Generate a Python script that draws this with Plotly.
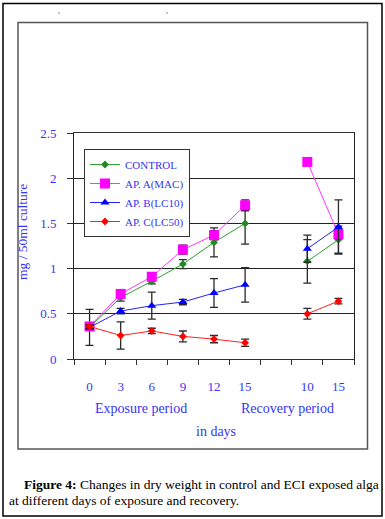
import plotly.graph_objects as go

categories = ["0", "3", "6", "9", "12", "15", "", "10", "15"]
control = [0.35, 0.68, 0.86, 1.05, 1.29, 1.50, None, 1.08, 1.32]
control_err = [0.20, 0.04, 0.03, 0.05, 0.16, 0.23, None, 0.24, 0.15]
mac = [0.36, 0.72, 0.91, 1.21, 1.37, 1.70, None, 2.18, 1.38]
mac_err = [0.03, 0.03, 0.03, 0.05, 0.05, 0.06, None, 0.03, 0.05]
lc10 = [0.35, 0.53, 0.59, 0.63, 0.73, 0.82, None, 1.22, 1.46]
lc10_err = [0.02, 0.03, 0.15, 0.03, 0.16, 0.19, None, 0.15, 0.30]
lc50 = [0.36, 0.26, 0.31, 0.25, 0.22, 0.18, None, 0.50, 0.64]
lc50_err = [0.02, 0.15, 0.03, 0.06, 0.04, 0.04, None, 0.06, 0.03]
y_ticks = [0, 0.5, 1, 1.5, 2, 2.5]
y_ticktext = ["0", "0.5", "1", "1.5", "2", "2.5"]

W, H = 385, 519
ML, MR, MT, MB = 74, 31, 133, 160
PW, PH = W - ML - MR, H - MT - MB
SERIF = "'Liberation Serif', 'Times New Roman', Times, serif"
BLUE = "#3535f5"


def px(x):
    return (x - ML) / PW


def py(y):
    return (H - MB - y) / PH


xpos = list(range(len(categories)))

series = [
    ("CONTROL", control, control_err, "#1f8a1f", "#2f9e2f", "diamond", 6),
    ("AP. A(MAC)", mac, mac_err, "#ff00ff", "#ff33ff", "square", 10),
    ("AP. B(LC10)", lc10, lc10_err, "#0000ff", "#2222ff", "triangle-up", 8),
    ("AP. C(LC50)", lc50, lc50_err, "#ff0000", "#ff2020", "diamond", 6),
]

fig = go.Figure()
for name, vals, errs, mcol, lcol, sym, size in series:
    fig.add_trace(go.Scatter(
        x=xpos, y=vals, name=name, mode="lines+markers",
        connectgaps=False,
        line=dict(color=lcol, width=1),
        marker=dict(color=mcol, symbol=sym, size=size),
        error_y=dict(type="data", array=errs, visible=True,
                     color="#2a2a2a", thickness=1.3, width=4),
    ))

fig.update_layout(
    width=W, height=H,
    margin=dict(l=ML, r=MR, t=MT, b=MB),
    paper_bgcolor="white", plot_bgcolor="white",
    font=dict(family=SERIF, color=BLUE, size=13),
    showlegend=True,
    legend=dict(
        x=px(84), y=py(149), xanchor="left", yanchor="top",
        bgcolor="white", bordercolor="#333333", borderwidth=1,
        font=dict(family=SERIF, size=11, color=BLUE),
        itemwidth=30, tracegroupgap=0,
    ),
    xaxis=dict(
        range=[-0.5, len(categories) - 0.5],
        tickmode="array", tickvals=xpos, ticktext=categories,
        ticks="", showgrid=False, zeroline=False,
        showline=True, linecolor="#333333", linewidth=1, mirror=True,
        tickfont=dict(family=SERIF, size=13, color=BLUE),
        ticklabelstandoff=15,
        minor=dict(tickvals=[i - 0.5 for i in range(len(categories) + 1)],
                   ticks="outside", ticklen=5, tickcolor="#333333", tickwidth=1),
    ),
    yaxis=dict(
        range=[0, 2.5], tickmode="array", tickvals=y_ticks, ticktext=y_ticktext,
        ticks="outside", ticklen=6, tickcolor="#333333",
        showgrid=True, gridcolor="#222222", gridwidth=1, zeroline=False,
        showline=True, linecolor="#222222", linewidth=1, mirror=True,
        tickfont=dict(family=SERIF, size=13, color=BLUE),
        ticklabelstandoff=8,
    ),
)

ann = [
    dict(text="mg / 50ml culture", x=px(22), y=py(232), textangle=-90,
         font=dict(family=SERIF, size=13.5, color=BLUE)),
    dict(text="Exposure period", x=px(141), y=py(408),
         font=dict(family=SERIF, size=14, color=BLUE)),
    dict(text="Recovery period", x=px(287), y=py(408),
         font=dict(family=SERIF, size=14, color=BLUE)),
    dict(text="in days", x=px(216), y=py(431),
         font=dict(family=SERIF, size=14, color=BLUE)),
    dict(text="<b>Figure 4:</b> Changes in dry weight in control and ECI exposed alga",
         x=px(22), y=py(484), xanchor="left",
         font=dict(family=SERIF, size=13.5, color="black")),
    dict(text="at different days of exposure and recovery.",
         x=px(7), y=py(501), xanchor="left",
         font=dict(family=SERIF, size=13.5, color="black")),
]
for a in ann:
    a.setdefault("xanchor", "center")
    fig.add_annotation(xref="paper", yref="paper", showarrow=False,
                       yanchor="middle", **a)

# inner chart frame and outer page frame
fig.add_shape(type="rect", xref="paper", yref="paper",
              x0=px(18), x1=px(367.5), y0=py(449), y1=py(22.5),
              line=dict(color="#555555", width=1.5), layer="below")
fig.add_shape(type="rect", xref="paper", yref="paper",
              x0=px(3), x1=px(382), y0=py(516), y1=py(3.5),
              line=dict(color="black", width=1.5), layer="below")
for dx in (59, 167):
    fig.add_shape(type="rect", xref="paper", yref="paper",
                  x0=px(dx - 0.5), x1=px(dx + 0.5), y0=py(13.5), y1=py(12.5),
                  line=dict(color="#999999", width=0.5), fillcolor="#999999")

fig.write_html("out.html", config={"displayModeBar": False},
               post_script="document.body.style.margin='0px';document.body.style.overflow='hidden';")
